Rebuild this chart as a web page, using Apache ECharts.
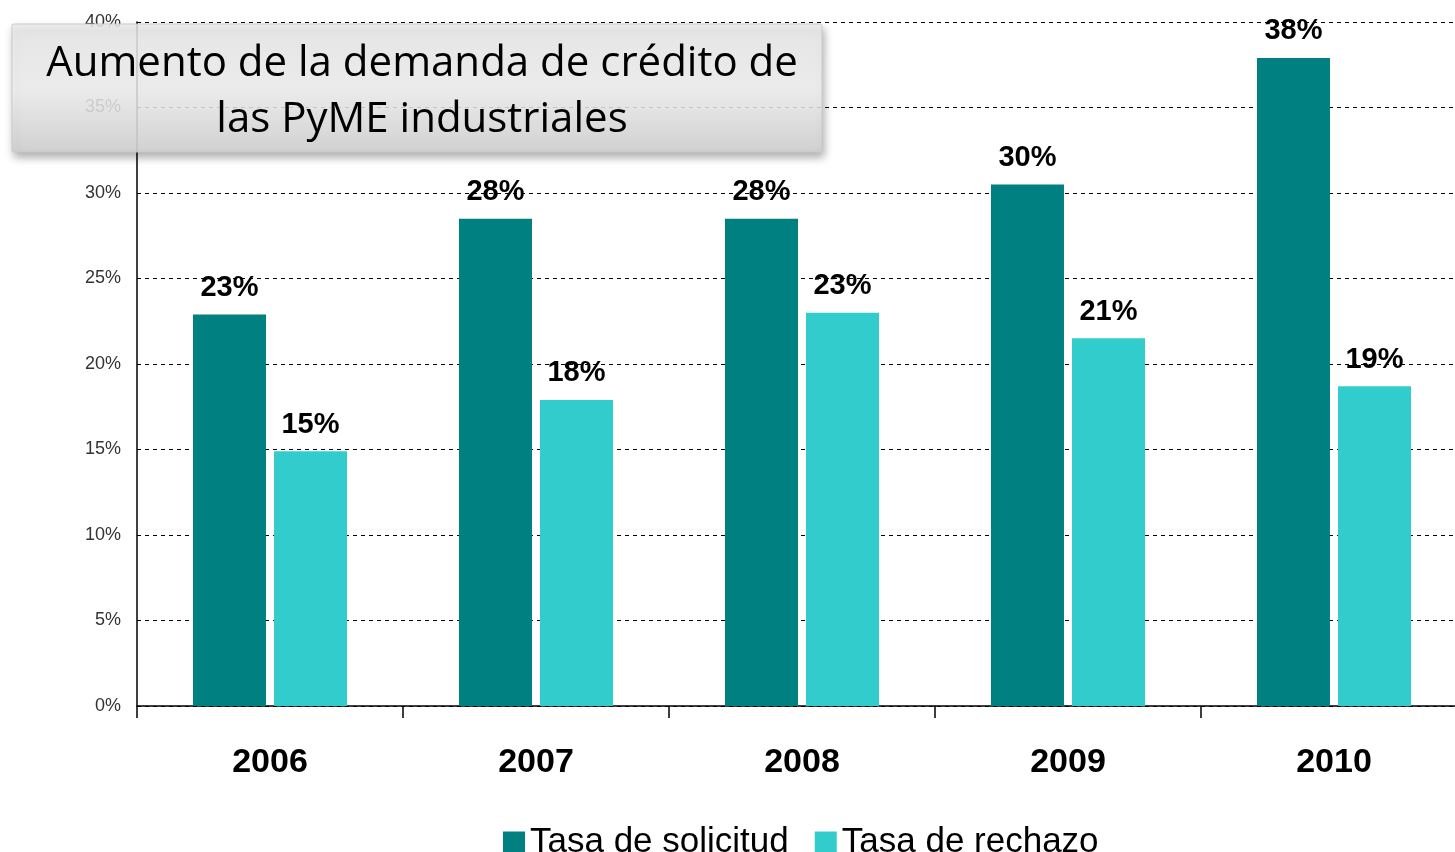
<!DOCTYPE html>
<html>
<head>
<meta charset="utf-8">
<script src="https://cdn.jsdelivr.net/npm/echarts@6/dist/echarts.min.js"></script>
<style>
  html, body { margin: 0; padding: 0; background: #fff; overflow: hidden; }
  /* el area del grafico sigue un poco mas alla del borde derecho */
  #chart { width: 1467px; height: 852px; }
</style>
</head>
<body>
<div id="chart"></div>
<script>
// datos
var years = ['2006', '2007', '2008', '2009', '2010'];
var solicitud = [22.9, 28.5, 28.5, 30.5, 37.9];
var rechazo = [14.9, 17.9, 23.0, 21.5, 18.7];
var solicitudLabels = ['23%', '28%', '28%', '30%', '38%'];
var rechazoLabels = ['15%', '18%', '23%', '21%', '19%'];
var titleLines = ['Aumento de la demanda de crédito de', 'las PyME industriales'];

var myChart = echarts.init(document.getElementById('chart'));

var labelStyle = {
  show: true,
  position: 'top',
  distance: 12,
  fontFamily: 'Liberation Sans, Arial',
  fontWeight: 'bold',
  fontSize: 29,
  color: '#000'
};

var option = {
  animation: false,
  backgroundColor: '#fff',
  grid: { left: 137, right: 0, top: 22, bottom: 146 },
  legend: {
    left: 498,
    top: 820,
    itemWidth: 22,
    itemHeight: 22,
    itemGap: 26,
    icon: 'rect',
    textStyle: { fontFamily: 'Liberation Sans, Arial', fontSize: 35, color: '#000' },
    data: ['Tasa de solicitud', 'Tasa de rechazo']
  },
  xAxis: {
    type: 'category',
    data: years,
    axisLine: { lineStyle: { color: '#000', width: 1.5 } },
    axisTick: { show: true, length: 12, interval: 0, lineStyle: { color: '#000', width: 1.5 } },
    axisLabel: {
      margin: 40,
      fontFamily: 'Liberation Sans, Arial',
      fontWeight: 'bold',
      fontSize: 34,
      color: '#000'
    }
  },
  yAxis: {
    type: 'value',
    min: 0,
    max: 40,
    interval: 5,
    axisLine: { show: true, lineStyle: { color: '#000', width: 1.5 } },
    axisTick: { show: false },
    axisLabel: {
      margin: 16,
      fontFamily: 'Liberation Sans, Arial',
      fontSize: 18,
      color: '#333',
      formatter: '{value}%'
    },
    splitLine: { lineStyle: { color: '#000', type: [4, 4], width: 1 } }
  },
  series: [
    {
      name: 'Tasa de solicitud',
      type: 'bar',
      barWidth: 73,
      barGap: '11%',
      itemStyle: { color: '#008080' },
      label: Object.assign({}, labelStyle, {
        formatter: function (p) { return solicitudLabels[p.dataIndex]; }
      }),
      data: solicitud
    },
    {
      name: 'Tasa de rechazo',
      type: 'bar',
      barWidth: 73,
      itemStyle: { color: '#33CCCC' },
      label: Object.assign({}, labelStyle, {
        formatter: function (p) { return rechazoLabels[p.dataIndex]; }
      }),
      data: rechazo
    }
  ],
  graphic: [
    {
      type: 'rect',
      z: 100,
      shape: { x: 12, y: 24, width: 810, height: 128, r: 2 },
      style: {
        fill: {
          type: 'linear', x: 0, y: 0, x2: 0, y2: 1,
          colorStops: [
            { offset: 0, color: 'rgba(238,238,238,0.85)' },
            { offset: 0.5, color: 'rgba(248,248,248,0.8)' },
            { offset: 1, color: 'rgba(212,212,212,0.9)' }
          ]
        },
        stroke: 'rgba(200,200,200,0.9)',
        lineWidth: 1,
        shadowBlur: 8,
        shadowOffsetX: 2,
        shadowOffsetY: 5,
        shadowColor: 'rgba(0,0,0,0.35)'
      }
    },
    {
      type: 'text',
      z: 101,
      x: 422,
      y: 64,
      style: {
        text: titleLines[0],
        fontFamily: 'Open Sans',
        fontSize: 42,
        fill: '#000',
        align: 'center',
        verticalAlign: 'middle'
      }
    },
    {
      type: 'text',
      z: 101,
      x: 422,
      y: 120,
      style: {
        text: titleLines[1],
        fontFamily: 'Open Sans',
        fontSize: 42,
        fill: '#000',
        align: 'center',
        verticalAlign: 'middle'
      }
    }
  ]
};

myChart.setOption(option);
</script>
</body>
</html>
